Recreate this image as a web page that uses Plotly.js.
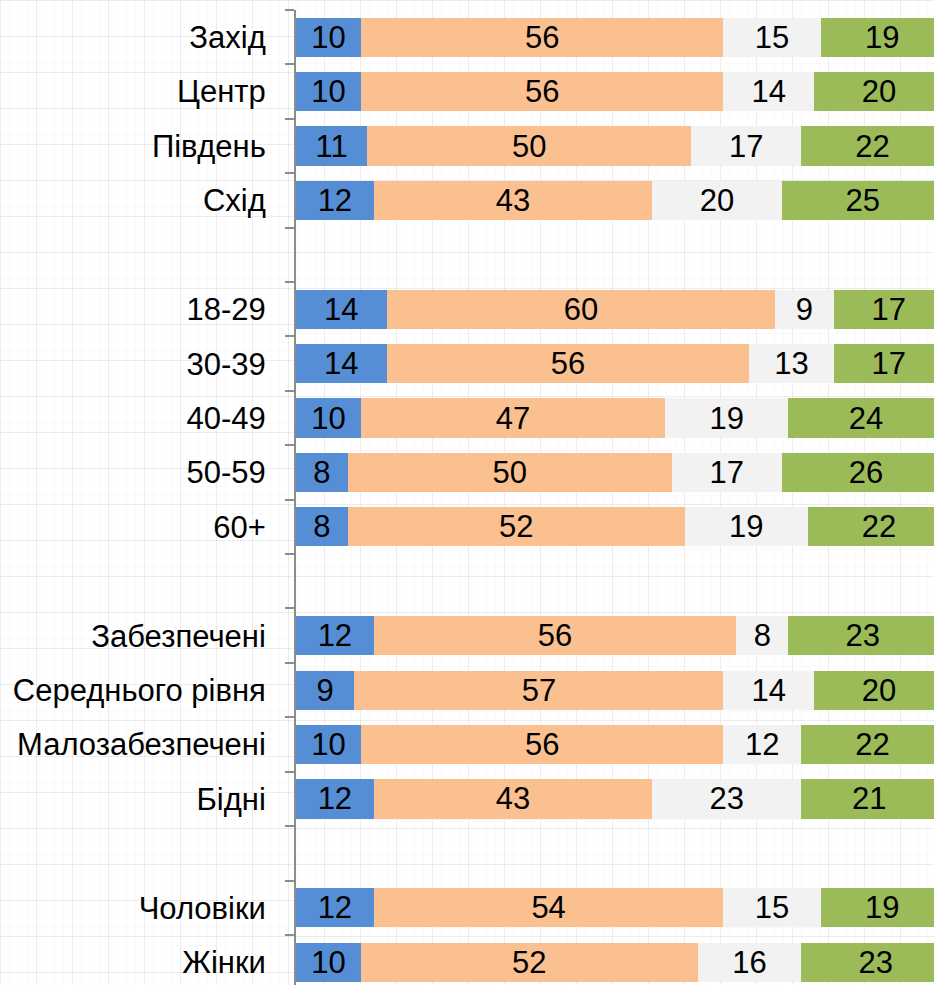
<!DOCTYPE html>
<html>
<head>
<meta charset="utf-8">
<script src="https://cdn.plot.ly/plotly-3.0.1.min.js"></script>
<style>
  html, body { margin: 0; padding: 0; }
  body {
    width: 934px; height: 985px; overflow: hidden;
    background-color: #fff;
    background-image:
      linear-gradient(to right, rgba(0,0,0,0.05) 1px, transparent 1px),
      linear-gradient(to bottom, rgba(0,0,0,0.05) 1px, transparent 1px),
      linear-gradient(to right, rgba(0,0,0,0.02) 1px, transparent 1px),
      linear-gradient(to bottom, rgba(0,0,0,0.02) 1px, transparent 1px);
    background-size: 36px 36px, 36px 36px, 9px 9px, 9px 9px;
  }
  #chart { width: 934px; height: 985px; }
</style>
</head>
<body>
<div id="chart"></div>
<script>
// categories top to bottom, blank entries are the gaps between groups
var categories = ['Захід', 'Центр', 'Південь', 'Схід', ' ',
  '18-29', '30-39', '40-49', '50-59', '60+', '  ',
  'Забезпечені', 'Середнього рівня', 'Малозабезпечені', 'Бідні', '   ',
  'Чоловіки', 'Жінки'];

var blueVals   = [10, 10, 11, 12, null, 14, 14, 10, 8, 8, null, 12, 9, 10, 12, null, 12, 10];
var orangeVals = [56, 56, 50, 43, null, 60, 56, 47, 50, 52, null, 56, 57, 56, 43, null, 54, 52];
var greyVals   = [15, 14, 17, 20, null, 9, 13, 19, 17, 19, null, 8, 14, 12, 23, null, 15, 16];
var greenVals  = [19, 20, 22, 25, null, 17, 17, 24, 26, 22, null, 23, 20, 22, 21, null, 19, 23];

var seriesColors = ['#558ED5', '#FAC090', '#F2F2F2', '#9BBB59'];
var seriesValues = [blueVals, orangeVals, greyVals, greenVals];

var fontFamily = 'Liberation Sans, Arial, sans-serif';

var data = [];
for (var s = 0; s < seriesValues.length; s++) {
  data.push({
    type: 'bar',
    orientation: 'h',
    y: categories,
    x: seriesValues[s],
    text: seriesValues[s].map(function(v){ return v === null ? '' : String(v); }),
    textposition: 'inside',
    insidetextanchor: 'middle',
    textangle: 0,
    constraintext: 'none',
    textfont: {family: fontFamily, size: 31, color: '#000'},
    marker: {color: seriesColors[s], line: {width: 0}},
    hoverinfo: 'skip'
  });
}

var layout = {
  width: 934,
  height: 985,
  barmode: 'stack',
  bargap: 0.28,
  showlegend: false,
  paper_bgcolor: 'rgba(0,0,0,0)',
  plot_bgcolor: 'rgba(0,0,0,0)',
  margin: {l: 296, r: 0, t: 10, b: 0},
  font: {family: fontFamily, size: 31, color: '#000'},
  xaxis: {
    range: [0, 98.5],
    visible: false,
    showgrid: false,
    zeroline: false
  },
  yaxis: {
    type: 'category',
    categoryorder: 'array',
    categoryarray: categories,
    range: [17.42, -0.5],
    showline: true,
    linecolor: '#8c8c8c',
    linewidth: 2,
    ticks: 'outside',
    tickson: 'boundaries',
    ticklen: 9,
    tickwidth: 2,
    tickcolor: '#8c8c8c',
    ticklabelstandoff: 22,
    showgrid: false,
    zeroline: false,
    tickfont: {family: fontFamily, size: 31, color: '#000'}
  }
};

Plotly.newPlot('chart', data, layout, {staticPlot: true});
</script>
</body>
</html>
